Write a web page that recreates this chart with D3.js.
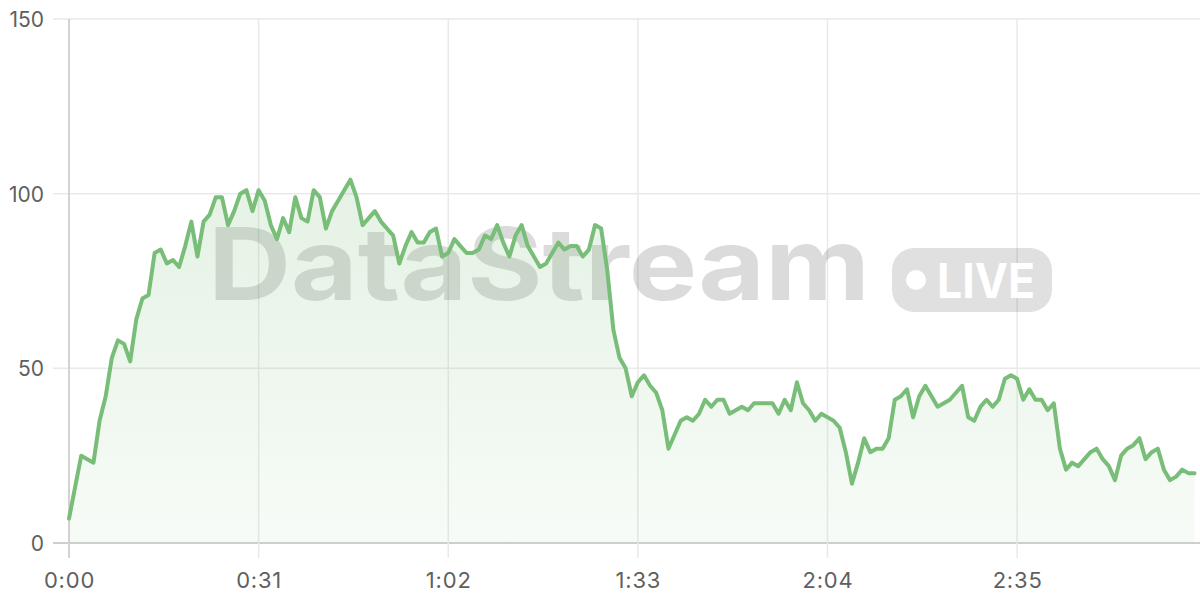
<!DOCTYPE html>
<html>
<head>
<meta charset="utf-8">
<script src="https://cdn.jsdelivr.net/npm/d3@7"></script>
<style>
  html, body { margin: 0; padding: 0; background: #fff; }
  svg { display: block; }
</style>
</head>
<body>
<svg id="chart" width="1200" height="600"></svg>
<script>
// ---- data ----
const seconds = d3.range(0, 185);
const values = [
  7, 16, 25, 24, 23, 35, 42, 53, 58, 57, 52, 64, 70, 71, 83, 84, 80, 81, 79, 85,
  92, 82, 92, 94, 99, 99, 91, 95, 100, 101, 95, 101, 98, 91, 87, 93, 89, 99, 93, 92,
  101, 99, 90, 95, 98, 101, 104, 99, 91, 93, 95, 92, 90, 88, 80, 85, 89, 86, 86, 89,
  90, 82, 83, 87, 85, 83, 83, 84, 88, 87, 91, 86, 82, 88, 91, 85, 82, 79, 80, 83,
  86, 84, 85, 85, 82, 84, 91, 90, 78, 61, 53, 50, 42, 46, 48, 45, 43, 38, 27, 31,
  35, 36, 35, 37, 41, 39, 41, 41, 37, 38, 39, 38, 40, 40, 40, 40, 37, 41, 38, 46,
  40, 38, 35, 37, 36, 35, 33, 26, 17, 23, 30, 26, 27, 27, 30, 41, 42, 44, 36, 42,
  45, 42, 39, 40, 41, 43, 45, 36, 35, 39, 41, 39, 41, 47, 48, 47, 41, 44, 41, 41,
  38, 40, 27, 21, 23, 22, 24, 26, 27, 24, 22, 18, 25, 27, 28, 30, 24, 26, 27, 21,
  18, 19, 21, 20, 20
];
const xTicks = [0, 31, 62, 93, 124, 155];
const xTickLabels = ["0:00", "0:31", "1:02", "1:33", "2:04", "2:35"];
const yTicks = [0, 50, 100, 150];
const watermarkText = "DataStream";
const badgeText = "LIVE";

const data = seconds.map((s, i) => ({ s, v: values[i] }));

// ---- layout ----
const svg = d3.select("#chart");
const mLeft = 69, mRight = 1200, mTop = 19, mBottom = 543;

const x = d3.scaleLinear().domain([0, 184.9]).range([mLeft, mRight]);
const y = d3.scaleLinear().domain([0, 150]).range([mBottom, mTop]);

const fontFam = "Inter, 'Open Sans', 'DejaVu Sans', sans-serif";

// gradient
const defs = svg.append("defs");
const grad = defs.append("linearGradient")
  .attr("id", "areaGrad").attr("gradientUnits", "userSpaceOnUse")
  .attr("x1", 0).attr("x2", 0).attr("y1", y(105)).attr("y2", y(0));
grad.append("stop").attr("offset", "0%").attr("stop-color", "rgb(122,190,122)").attr("stop-opacity", 0.2);
grad.append("stop").attr("offset", "100%").attr("stop-color", "rgb(122,190,122)").attr("stop-opacity", 0.06);

// grid: horizontal
const gGrid = svg.append("g");
gGrid.selectAll("line.h").data(yTicks).join("line").attr("class", "h")
  .attr("x1", mLeft - 16).attr("x2", mRight)
  .attr("y1", d => y(d)).attr("y2", d => y(d))
  .attr("stroke", d => d === 0 ? "#cfcfcf" : "#e9e9e9")
  .attr("stroke-width", d => d === 0 ? 2 : 1.5);
// grid: vertical
gGrid.selectAll("line.v").data(xTicks).join("line").attr("class", "v")
  .attr("x1", d => x(d)).attr("x2", d => x(d))
  .attr("y1", mTop).attr("y2", mBottom + 15)
  .attr("stroke", d => d === 0 ? "#d3d3d3" : "#e9e9e9")
  .attr("stroke-width", d => d === 0 ? 2 : 1.5);

// watermark (under the area fill so the green tints it)
const wm = svg.append("g").attr("pointer-events", "none");
wm.append("text")
  .attr("x", 208).attr("y", 300)
  .attr("textLength", 662).attr("lengthAdjust", "spacingAndGlyphs")
  .attr("font-family", fontFam).attr("font-weight", 700).attr("font-size", 100)
  .attr("fill", "rgba(0,0,0,0.14)")
  .text(watermarkText);
wm.append("rect")
  .attr("x", 892).attr("y", 248).attr("width", 160).attr("height", 64)
  .attr("rx", 22).attr("fill", "rgba(0,0,0,0.12)");
wm.append("circle").attr("cx", 916).attr("cy", 280).attr("r", 10).attr("fill", "#fff");
wm.append("text")
  .attr("x", 937).attr("y", 298)
  .attr("textLength", 98).attr("lengthAdjust", "spacingAndGlyphs")
  .attr("font-family", fontFam).attr("font-weight", 700).attr("font-size", 48)
  .attr("fill", "#fff")
  .text(badgeText);

// area
const area = d3.area().x(d => x(d.s)).y0(y(0)).y1(d => y(d.v)).curve(d3.curveLinear);
svg.append("path").datum(data).attr("d", area).attr("fill", "url(#areaGrad)");

// line
const line = d3.line().x(d => x(d.s)).y(d => y(d.v)).curve(d3.curveLinear);
svg.append("path").datum(data).attr("d", line)
  .attr("fill", "none").attr("stroke", "rgb(120,189,120)")
  .attr("stroke-width", 4).attr("stroke-linejoin", "round").attr("stroke-linecap", "round");

// axes (labels)
const yAxis = d3.axisLeft(y).tickValues(yTicks).tickSize(0).tickPadding(0);
const gy = svg.append("g").attr("transform", `translate(44,0)`).call(yAxis);
gy.select(".domain").remove();
gy.selectAll("text")
  .attr("font-family", fontFam).attr("font-size", 21).attr("fill", "#5f5f5f")
  .attr("dy", "0.35em");

const xAxis = d3.axisBottom(x).tickValues(xTicks).tickSize(0).tickPadding(0)
  .tickFormat((d, i) => xTickLabels[i]);
const gx = svg.append("g").attr("transform", `translate(0,${mBottom})`).call(xAxis);
gx.select(".domain").remove();
gx.selectAll("text")
  .attr("font-family", fontFam).attr("font-size", 22).attr("fill", "#5f5f5f")
  .attr("letter-spacing", "0.8px")
  .attr("y", 45).attr("dy", 0);
</script>
</body>
</html>
